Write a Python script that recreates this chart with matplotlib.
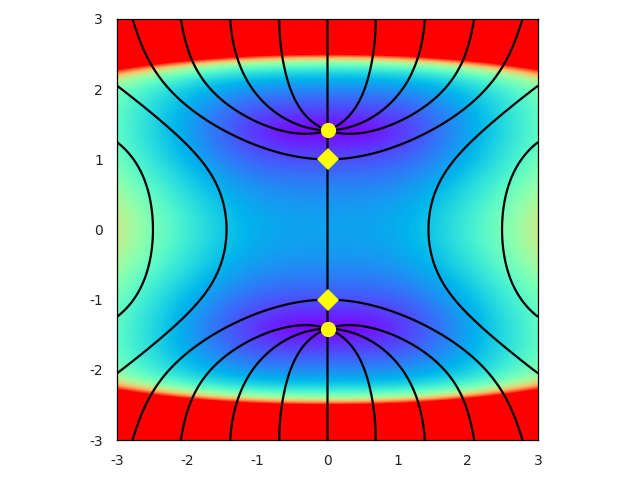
import numpy as np
import matplotlib
matplotlib.use("Agg")
import matplotlib.pyplot as plt

plt.rcParams['axes.unicode_minus'] = False
plt.rcParams['font.family'] = ['DejaVu Sans']

# ---------------- data ----------------
tick_vals = [-3, -2, -1, 0, 1, 2, 3]
tick_labels = ['-3', '-2', '-1', '0', '1', '2', '3']

# yellow markers
circle_x = [0.0, 0.0]
circle_y = [1.414, -1.414]
diamond_x = [0.0, 0.0]
diamond_y = [1.0, -1.0]

# points read on the contour lines (upper-right quadrant; picture is mirror symmetric)
# separatrix through the diamond  (phase 0)
sep_x = [2.77, 2.715, 2.525, 2.287, 2.05, 1.765, 1.432, 1.005, 0.625, 0.15]
sep_y = [3.0, 2.76, 2.38, 2.05, 1.81, 1.575, 1.385, 1.195, 1.076, 1.005]
# phase +-90 lines
r0_x = [1.385, 1.29, 1.10, 0.767, 0.387, 0.102, 3.0, 2.762, 2.62, 2.525, 2.477]
r0_y = [3.0, 2.43, 2.05, 1.765, 1.527, 1.432, 1.242, 1.005, 0.72, 0.387, 0.007]
# phase 135 / -45 lines
rp_x = [0.686, 0.625, 0.482, 0.245, 0.078, 3.0, 2.525, 2.287, 2.05, 1.812, 1.622, 1.48, 1.432]
rp_y = [3.0, 2.287, 1.907, 1.622, 1.48, 2.05, 1.67, 1.48, 1.242, 1.005, 0.72, 0.34, 0.007]
# phase 45 line
rm_x = [2.088, 2.05, 1.86, 1.622, 1.337, 1.005, 0.625, 0.15]
rm_y = [3.0, 2.762, 2.287, 1.955, 1.717, 1.527, 1.385, 1.361]

# colour-field parameters (palette fraction)
C_AXIS = 0.11       # strength along the x=0 axis
C_AXIS_DAMP = 0.075
C_SIDE = 0.096      # growth towards the left/right edges
C_SIDE_POW = 1.65
C_BAND = 0.11       # saturated red band at top and bottom
C_BAND_Y0 = 2.3
C_BAND_CURV = 0.02
C_BAND_W = 0.12

DEG = 3


def basis(x, y):
    u = np.asarray(x, float) / 3.0
    v = np.asarray(y, float) / 3.0
    return np.stack([u ** (2 * i) * v ** (2 * j)
                     for i in range(DEG + 1) for j in range(DEG + 1 - i)], axis=-1)


nb = basis(0.0, 0.0).shape[-1]
rows, rhs = [], []
z = np.zeros(nb)
for x, y in zip(sep_x, sep_y):
    rows.append(np.concatenate([z, basis(x, y)])); rhs.append(0.0)
for x, y in zip(r0_x, r0_y):
    rows.append(np.concatenate([basis(x, y), z])); rhs.append(0.0)
for x, y in zip(rp_x, rp_y):
    b = basis(x, y)
    rows.append(np.concatenate([b, -x * b])); rhs.append(0.0)
for x, y in zip(rm_x, rm_y):
    b = basis(x, y)
    rows.append(np.concatenate([b, x * b])); rhs.append(0.0)
W = 20.0
rows.append(W * np.concatenate([basis(0, 0), z])); rhs.append(W)
rows.append(W * np.concatenate([basis(circle_x[0], circle_y[0]), z])); rhs.append(0.0)
rows.append(W * np.concatenate([z, basis(diamond_x[0], diamond_y[0])])); rhs.append(0.0)
lam = 1e-4
for k in range(2 * nb):
    e = np.zeros(2 * nb); e[k] = np.sqrt(lam)
    rows.append(e); rhs.append(0.0)
A = np.array(rows); bvec = np.array(rhs)
coef, *_ = np.linalg.lstsq(A, bvec, rcond=None)
ca, cb = coef[:nb], coef[nb:]

n = 600
xs = np.linspace(-3, 3, n)
X, Y = np.meshgrid(xs, xs)
B = basis(X, Y)
R = B @ ca
I = -X * (B @ cb)


def colour_field(Xc, Yc):
    p0 = C_AXIS * (2 - Yc ** 2) / (1 + C_AXIS_DAMP * Yc ** 2)
    g = C_SIDE * np.abs(Xc) ** C_SIDE_POW * (0.72 + 0.28 * np.exp(-Yc ** 2 / 0.6))
    e = C_BAND * np.exp((np.abs(Yc) - (C_BAND_Y0 - C_BAND_CURV * Xc ** 2)) / C_BAND_W)
    return np.sqrt(p0 ** 2 + g ** 2) + e


ng = 128
xg = np.linspace(-3, 3, ng)
Xg, Yg = np.meshgrid(xg, xg)
Tg = colour_field(Xg, Yg)

fig = plt.figure(figsize=(6.4, 4.8), dpi=100)
ax = fig.add_axes([117 / 640, 40 / 480, 421 / 640, 421 / 480])
ax.imshow(Tg, extent=[-3, 3, -3, 3], origin='lower', cmap='rainbow',
          vmin=0, vmax=1, interpolation='bilinear', aspect='auto')
for F in (I, R, R + I, R - I):
    ax.contour(X, Y, F, levels=[0], colors='k', linewidths=1.6)
ax.plot(circle_x, circle_y, 'o', color='#ffff00', markersize=11, markeredgewidth=0)
ax.plot(diamond_x, diamond_y, 'D', color='#ffff00', markersize=11.5, markeredgewidth=0)
ax.set_xlim(-3, 3)
ax.set_ylim(-3, 3)
ax.set_xticks(tick_vals)
ax.set_xticklabels(tick_labels)
ax.set_yticks(tick_vals)
ax.set_yticklabels(tick_labels)
ax.tick_params(length=0, labelsize=10, colors='#222222')
ax.tick_params(axis='x', pad=10)
ax.tick_params(axis='y', pad=10)
for s in ax.spines.values():
    s.set_linewidth(0.9)
fig.savefig('out.png', dpi=100)
